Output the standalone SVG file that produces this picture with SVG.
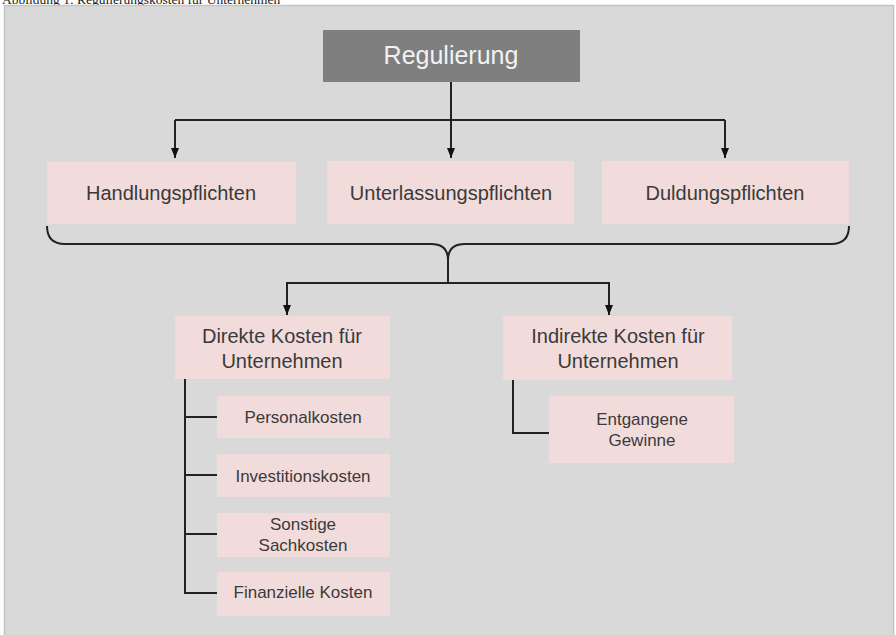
<svg xmlns="http://www.w3.org/2000/svg" width="896" height="635" viewBox="0 0 896 635">
<defs>
<marker id="arr" markerWidth="10" markerHeight="8" refX="10" refY="4" orient="auto" markerUnits="userSpaceOnUse">
<path d="M0,0 L10,4 L0,8 Z" fill="#111"/>
</marker>
<style>
.box{fill:#f2dcdb;}
.t{font-family:"Liberation Sans",Arial,sans-serif;fill:#3a3a3a;text-anchor:middle;}
.big{font-size:20px;}
.sm{font-size:17px;}
.ln{fill:none;stroke:#222;stroke-width:2;}
</style>
</defs>
<rect x="0" y="0" width="896" height="635" fill="#ffffff"/>
<text x="2" y="4" font-family="'Liberation Serif',serif" font-size="13.5" fill="#222">Abbildung 1: Regulierungskosten für Unternehmen</text>
<rect x="4.5" y="5.5" width="889" height="640" fill="#d9d9d9" stroke="#c4c4c4" stroke-width="1.5"/>

<g id="connectors">
<path class="ln" d="M451,82 V158" marker-end="url(#arr)"/>
<path class="ln" d="M175,120 H725"/>
<path class="ln" d="M175,120 V158" marker-end="url(#arr)"/>
<path class="ln" d="M725,120 V158" marker-end="url(#arr)"/>
<path class="ln" d="M47,226 Q47,244 65,244 H431 Q448,244 448,260 Q448,244 465,244 H831 Q849,244 849,226"/>
<path class="ln" d="M448,258 V283 M287,283 H609"/>
<path class="ln" d="M287,282 V315" marker-end="url(#arr)"/>
<path class="ln" d="M609,282 V315" marker-end="url(#arr)"/>
<path class="ln" d="M185,379 V593 H217 M185,417 H217 M185,475 H217 M185,534 H217"/>
<path class="ln" d="M513,380 V433 H549"/>
</g>

<g id="regulierung">
<rect x="323" y="30" width="257" height="52" fill="#7f7f7f"/>
<text class="t" x="451" y="64" font-size="25" style="fill:#f2f2f2">Regulierung</text>
</g>
<g id="handlungspflichten">
<rect class="box" x="47" y="162" width="249" height="62"/>
<text class="t big" x="171" y="200">Handlungspflichten</text>
</g>
<g id="unterlassungspflichten">
<rect class="box" x="327" y="161" width="247" height="63"/>
<text class="t big" x="451" y="200">Unterlassungspflichten</text>
</g>
<g id="duldungspflichten">
<rect class="box" x="602" y="161" width="247" height="63"/>
<text class="t big" x="725" y="200">Duldungspflichten</text>
</g>
<g id="direkte">
<rect class="box" x="175" y="316" width="215" height="63"/>
<text class="t big" x="282" y="343">Direkte Kosten für</text>
<text class="t big" x="282" y="368">Unternehmen</text>
</g>
<g id="indirekte">
<rect class="box" x="503" y="316" width="229" height="64"/>
<text class="t big" x="618" y="343">Indirekte Kosten für</text>
<text class="t big" x="618" y="368">Unternehmen</text>
</g>
<g id="personalkosten">
<rect class="box" x="217" y="396" width="173" height="42"/>
<text class="t sm" x="303" y="423">Personalkosten</text>
</g>
<g id="investitionskosten">
<rect class="box" x="217" y="454" width="173" height="43"/>
<text class="t sm" x="303" y="482">Investitionskosten</text>
</g>
<g id="sonstige">
<rect class="box" x="217" y="513" width="173" height="44"/>
<text class="t sm" x="303" y="530">Sonstige</text>
<text class="t sm" x="303" y="551">Sachkosten</text>
</g>
<g id="finanzielle">
<rect class="box" x="217" y="572" width="173" height="44"/>
<text class="t sm" x="303" y="598">Finanzielle Kosten</text>
</g>
<g id="entgangene">
<rect class="box" x="549" y="396" width="185" height="67"/>
<text class="t sm" x="642" y="425">Entgangene</text>
<text class="t sm" x="642" y="446">Gewinne</text>
</g>
</svg>
